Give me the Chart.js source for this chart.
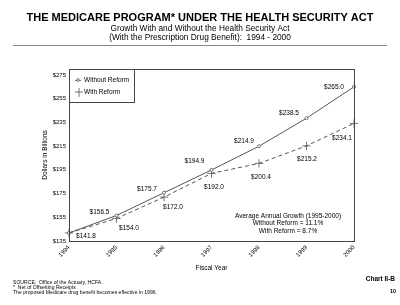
<!DOCTYPE html>
<html><head><meta charset="utf-8">
<script src="https://cdn.jsdelivr.net/npm/chart.js@4"></script>
<style>html,body{margin:0;padding:0;background:#fff}canvas{display:block}</style>
</head>
<body><canvas id="c" width="400" height="305"></canvas>
<script>
const years = ['1994','1995','1996','1997','1998','1999','2000'];
const withoutReform = [141.8,156.5,175.7,194.9,214.9,238.5,265.0];
const withReform = [141.8,154.0,172.0,192.0,200.4,215.2,234.1];
const yTicks = [135,155,175,195,215,235,255,275];
const seriesNames = ['Without Reform','With Reform'];
const titleText = 'THE MEDICARE PROGRAM* UNDER THE HEALTH SECURITY ACT';
const subtitleLines = ['Growth With and Without the Health Security Act','(With the Prescription Drug Benefit):  1994 - 2000'];
const noteLines = ['Average Annual Growth (1995-2000)','Without Reform = 11.1%','With Reform = 8.7%'];
const footLines = ['SOURCE:  Office of the Actuary, HCFA.','*  Net of Offsetting Receipts','The proposed Medicare drug benefit becomes effective in 1996.'];

// label placement offsets (style, not data)
const offWithout = [null,[-17,-3.5],[-17,-4],[-17,-9],[-15,-5],[-17.5,-5],[-20,0]];
const offWith = [[17,3],[12.5,9.5],[9,10],[2.5,13.5],[2,13.5],[0.5,13],[-12,15]];

const FONT = "'Liberation Sans', Arial, sans-serif";
const LINE = '#555';

const deco = {
  id:'deco',
  afterDraw(chart){
    const ctx = chart.ctx, a = chart.chartArea;
    ctx.save();
    // plot box
    ctx.strokeStyle = '#444'; ctx.lineWidth = 1;
    ctx.strokeRect(Math.round(a.left)+0.5, Math.round(a.top)+0.5, Math.round(a.right-a.left), Math.round(a.bottom-a.top));
    // legend box
    ctx.strokeRect(Math.round(a.left)+0.5, Math.round(a.top)+0.5, 65, 33);
    ctx.fillStyle = '#000'; ctx.font = '6.5px '+FONT; ctx.textBaseline = 'middle'; ctx.textAlign = 'left';
    const lx = a.left;
    // entry 1
    ctx.strokeStyle = LINE; ctx.lineWidth = 0.8;
    ctx.beginPath(); ctx.moveTo(lx+6, a.top+11.5); ctx.lineTo(lx+12, a.top+11.5); ctx.stroke();
    ctx.beginPath(); ctx.arc(lx+9, a.top+11, 1.4, 0, Math.PI*2); ctx.fillStyle='#fff'; ctx.fill(); ctx.stroke();
    ctx.fillStyle = '#000';
    ctx.fillText(chart.data.datasets[0].label, lx+15, a.top+11.5);
    // entry 2
    ctx.beginPath(); ctx.moveTo(lx+6, a.top+23); ctx.lineTo(lx+14, a.top+23);
    ctx.moveTo(lx+10, a.top+19); ctx.lineTo(lx+10, a.top+28); ctx.stroke();
    ctx.fillText(chart.data.datasets[1].label, lx+15, a.top+23.5);
    // data labels
    ctx.textAlign = 'center'; ctx.font = '6.5px '+FONT; ctx.fillStyle = '#000';
    [[0,offWithout],[1,offWith]].forEach(([di,offs])=>{
      const meta = chart.getDatasetMeta(di);
      meta.data.forEach((pt,i)=>{
        const o = offs[i]; if(!o) return;
        const v = chart.data.datasets[di].data[i];
        ctx.fillText('$'+v.toFixed(1), pt.x+o[0], pt.y+o[1]);
      });
    });
    // note
    ctx.font = '6.5px '+FONT;
    noteLines.forEach((t,i)=>ctx.fillText(t, 288, 216+i*7.7));
    // axis titles
    ctx.fillText('Fiscal Year', (a.left+a.right)/2, 268);
    ctx.save(); ctx.translate(45,(a.top+a.bottom)/2); ctx.rotate(-Math.PI/2);
    ctx.fillText('Dollars in Billions', 0, 0); ctx.restore();
    // titles
    ctx.font = 'bold 11px '+FONT;
    ctx.fillText(titleText, 200, 18);
    ctx.font = '8.3px '+FONT;
    ctx.fillText(subtitleLines[0], 200, 28.5);
    ctx.fillText(subtitleLines[1], 200, 38);
    ctx.strokeStyle = '#888'; ctx.lineWidth = 1;
    ctx.beginPath(); ctx.moveTo(13, 45.5); ctx.lineTo(387, 45.5); ctx.stroke();
    // footnotes
    ctx.textAlign = 'left'; ctx.font = '5.1px '+FONT;
    footLines.forEach((t,i)=>ctx.fillText(t, 13, 283+i*5));
    ctx.textAlign = 'right'; ctx.font = 'bold 6.5px '+FONT;
    ctx.fillText('Chart II-B', 395, 279);
    ctx.font = 'bold 5.5px '+FONT;
    ctx.fillText('10', 396, 291);
    ctx.restore();
  }
};

new Chart(document.getElementById('c'), {
  type:'line',
  data:{
    labels: years,
    datasets:[
      {label:seriesNames[0], data:withoutReform, borderColor:LINE, borderWidth:1, tension:0,
       pointStyle:'circle', pointRadius:1.5, pointBorderColor:LINE, pointBackgroundColor:'#fff', pointBorderWidth:0.8},
      {label:seriesNames[1], data:withReform, borderColor:LINE, borderWidth:1, borderDash:[4,3], tension:0,
       pointStyle:'cross', pointRadius:4.2, pointBorderColor:LINE, pointBorderWidth:0.8}
    ]
  },
  options:{
    responsive:false, animation:false, devicePixelRatio:1,
    layout:{padding:{top:69,right:46,bottom:0,left:0}},
    plugins:{legend:{display:false}, tooltip:{enabled:false}, title:{display:false}},
    scales:{
      x:{type:'category', offset:false,
         grid:{display:false, drawTicks:false}, border:{display:false},
         ticks:{minRotation:45, maxRotation:45, autoSkip:false, padding:3, color:'#000', font:{size:6, family:FONT}},
         afterFit:s=>{s.height=64;}},
      y:{min:135, max:280,
         grid:{display:false, drawTicks:false}, border:{display:false},
         afterBuildTicks:s=>{s.ticks = yTicks.map(v=>({value:v}));},
         ticks:{padding:3, color:'#000', font:{size:6, family:FONT}, callback:v=>'$'+v},
         afterFit:s=>{s.width=69;}}
    }
  },
  plugins:[deco]
});
</script>
</body></html>
